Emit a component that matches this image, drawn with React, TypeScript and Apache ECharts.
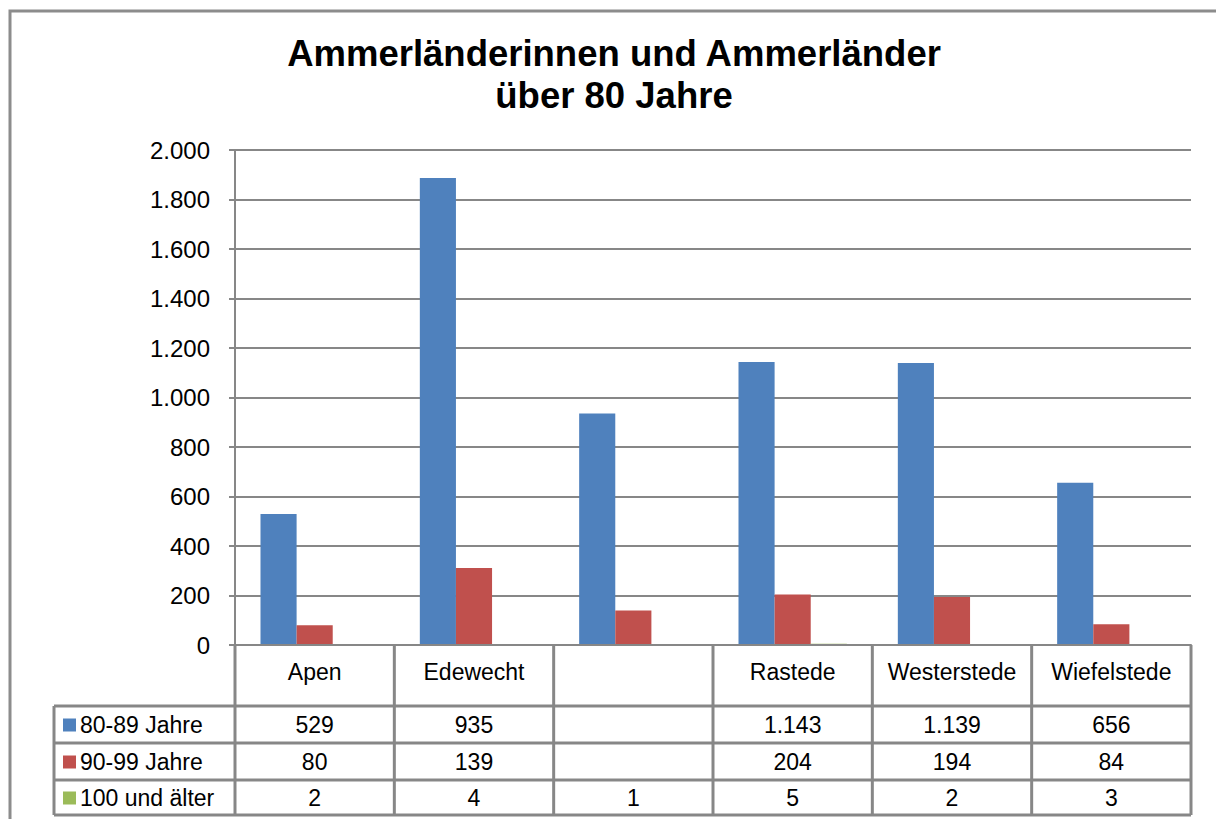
import React, { useEffect, useRef } from "react";
import * as echarts from "echarts";

const titleLines = ["Ammerländerinnen und Ammerländer", "über 80 Jahre"];
const categories = ["Apen", "Edewecht", "", "Rastede", "Westerstede", "Wiefelstede"];
const seriesNames = ["80-89 Jahre", "90-99 Jahre", "100 und älter"];
const values8089 = [529, 1887, 935, 1143, 1139, 656];
const values9099 = [80, 311, 139, 204, 194, 84];
const values100 = [2, 4, 1, 5, 2, 3];
const tableRow8089 = ["529", "935", "", "1.143", "1.139", "656"];
const tableRow9099 = ["80", "139", "", "204", "194", "84"];
const tableRow100 = ["2", "4", "1", "5", "2", "3"];
const colors = ["#4F81BD", "#C0504D", "#9BBB59"];

const FONT = "'Liberation Sans', Arial, sans-serif";
const GRAY = "#878787";

export default function App() {
  const ref = useRef<HTMLDivElement>(null);
  useEffect(() => {
    if (!ref.current) return;
    const chart = echarts.init(ref.current, null, { renderer: "svg" });
    const W = 1216, H = 819;
    const gLeft = 235, gRight = 1191, gTop = 150, gBottom = 645;
    const colW = (gRight - gLeft) / categories.length;
    const rowLines = [706, 743, 780, 815];
    const rowCenters = [725, 762, 798];
    const legendLeft = 54;
    const tableRows = [tableRow8089, tableRow9099, tableRow100];

    const graphics: any[] = [];
    graphics.push({
      type: "polyline",
      shape: { points: [[10, H + 10], [10, 11], [W + 10, 11]] },
      style: { stroke: "#8c8c8c", lineWidth: 3, fill: "none" },
      silent: true,
    });
    for (let i = 0; i <= categories.length; i++) {
      const x = gLeft + i * colW;
      graphics.push({
        type: "line",
        shape: { x1: x, y1: gBottom, x2: x, y2: rowLines[3] },
        style: { stroke: GRAY, lineWidth: 3 },
      });
    }
    graphics.push({
      type: "line",
      shape: { x1: legendLeft, y1: rowLines[0], x2: legendLeft, y2: rowLines[3] },
      style: { stroke: GRAY, lineWidth: 3 },
    });
    for (const y of rowLines) {
      graphics.push({
        type: "line",
        shape: { x1: legendLeft, y1: y, x2: gRight, y2: y },
        style: { stroke: GRAY, lineWidth: 3 },
      });
    }
    seriesNames.forEach((name, r) => {
      graphics.push({
        type: "rect",
        shape: { x: 63, y: rowCenters[r] - 6.5, width: 13, height: 13 },
        style: { fill: colors[r] },
      });
      graphics.push({
        type: "text",
        x: 80,
        y: rowCenters[r],
        style: { text: name, font: `23px ${FONT}`, fill: "#000", textAlign: "left", textVerticalAlign: "middle" },
      });
    });
    tableRows.forEach((row, r) => {
      row.forEach((txt, c) => {
        if (!txt) return;
        graphics.push({
          type: "text",
          x: gLeft + (c + 0.5) * colW,
          y: rowCenters[r],
          style: { text: txt, font: `23px ${FONT}`, fill: "#000", textAlign: "center", textVerticalAlign: "middle" },
        });
      });
    });

    const fmt = (v: number) => String(v).replace(/\B(?=(\d{3})+(?!\d))/g, ".");

    chart.setOption({
      animation: false,
      backgroundColor: "#fff",
      title: {
        text: titleLines.join("\n"),
        left: 614,
        textAlign: "center",
        top: 32,
        padding: 0,
        textStyle: { fontFamily: FONT, fontSize: 36.5, fontWeight: "bold", color: "#000", lineHeight: 42 },
      },
      grid: { left: gLeft, right: W - gRight, top: gTop, bottom: H - gBottom, containLabel: false },
      xAxis: {
        type: "category",
        data: categories,
        z: 5,
        axisLine: { lineStyle: { color: GRAY, width: 2 } },
        axisTick: { show: false },
        axisLabel: { fontFamily: FONT, fontSize: 23, color: "#000", margin: 15, interval: 0 },
      },
      yAxis: {
        type: "value",
        min: 0,
        max: 2000,
        interval: 200,
        axisLine: { show: true, lineStyle: { color: GRAY, width: 2 } },
        axisTick: { show: true, length: 6, lineStyle: { color: GRAY, width: 2 } },
        splitLine: { lineStyle: { color: GRAY, width: 2 } },
        axisLabel: { fontFamily: FONT, fontSize: 24, color: "#000", margin: 25, formatter: fmt },
      },
      series: [values8089, values9099, values100].map((d, i) => ({
        type: "bar",
        name: seriesNames[i],
        data: d,
        itemStyle: { color: colors[i] },
        barGap: "0%",
        barCategoryGap: "32%",
      })),
      graphic: graphics,
    });
    return () => chart.dispose();
  }, []);
  return <div ref={ref} style={{ position: "fixed", left: 0, top: 0, width: 1216, height: 819 }} />;
}
